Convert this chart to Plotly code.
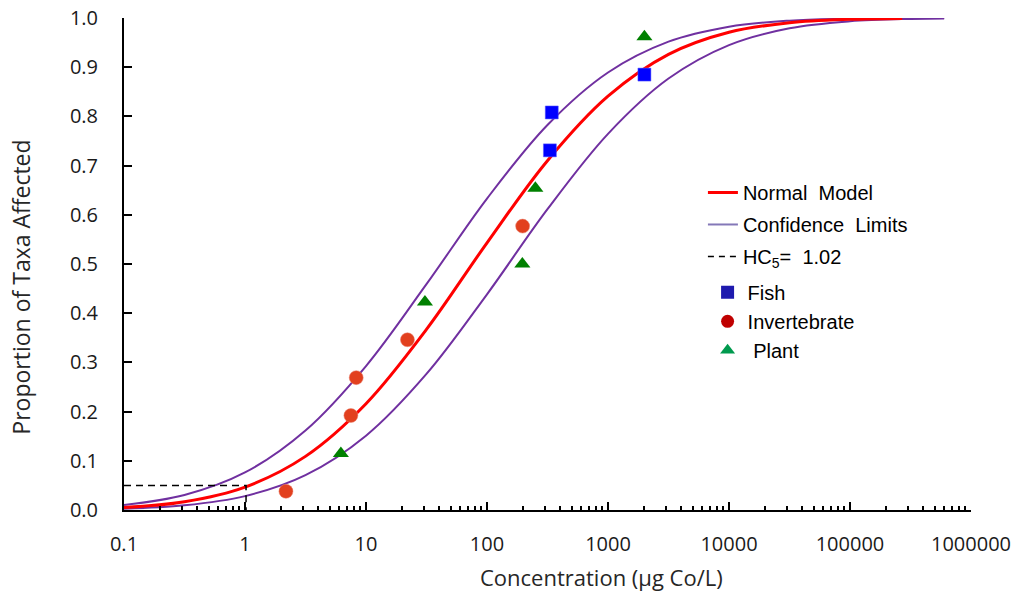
import plotly.graph_objects as go

# ---- data ----
conc_red = [0.1, 0.316, 1, 3.16, 10, 31.6, 100, 316, 1000, 3162, 10000, 31623, 100000, 270000]
normal_model = [0.0051, 0.0168, 0.0466, 0.109, 0.216, 0.367, 0.543, 0.710, 0.841, 0.926,
                0.971, 0.9903, 0.9973, 0.9992]

conc_cl = [0.1, 0.316, 1, 3.16, 10, 31.6, 100, 316, 1000, 3162, 10000, 31623, 100000, 316228, 600000]
upper_limit = [0.0103, 0.0306, 0.0764, 0.1616, 0.2926, 0.459, 0.633, 0.7826, 0.8893, 0.952,
               0.9824, 0.9946, 0.9986, 0.9997, 0.9999]
lower_limit = [0.0027, 0.0095, 0.0282, 0.0708, 0.151, 0.2765, 0.4384, 0.6114, 0.7646, 0.877,
               0.945, 0.9791, 0.9933, 0.9982, 0.9992]

hc5_x = [0.1, 1.02, 1.02]
hc5_y = [0.05, 0.05, 0.0]

fish_x = [331, 343, 2000]
fish_y = [0.731, 0.808, 0.885]
invert_x = [2.18, 7.5, 8.3, 22, 197]
invert_y = [0.038, 0.192, 0.269, 0.346, 0.577]
plant_x = [6.2, 30.7, 196, 251, 2000]
plant_y = [0.115, 0.423, 0.500, 0.654, 0.962]

x_tick_vals = [0.1, 1, 10, 100, 1000, 10000, 100000, 1000000]
x_tick_text = ["0.1", "1", "10", "100", "1000", "10000", "100000", "1000000"]
y_tick_vals = [0.0, 0.1, 0.2, 0.3, 0.4, 0.5, 0.6, 0.7, 0.8, 0.9, 1.0]

minor_vals = [m * d for d in x_tick_vals[:-1] for m in range(2, 10)]

RED = "#FF0000"
PURPLE = "#7030A0"

fig = go.Figure()

# curves
fig.add_trace(go.Scatter(x=conc_cl, y=upper_limit, mode="lines", line=dict(color=PURPLE, width=2, shape="spline"),
                         showlegend=False, hoverinfo="skip"))
fig.add_trace(go.Scatter(x=conc_cl, y=lower_limit, mode="lines", line=dict(color=PURPLE, width=2, shape="spline"),
                         showlegend=False, hoverinfo="skip"))
fig.add_trace(go.Scatter(x=conc_red, y=normal_model, mode="lines", line=dict(color=RED, width=3, shape="spline"),
                         showlegend=False))
fig.add_trace(go.Scatter(x=hc5_x, y=hc5_y, mode="lines", line=dict(color="black", width=1.5, dash="7px,5px"),
                         showlegend=False))

# points
fig.add_trace(go.Scatter(x=fish_x, y=fish_y, mode="markers",
                         marker=dict(symbol="square", size=13, color="#0000FF", line=dict(width=0.5, color="#6060FF")),
                         showlegend=False))
fig.add_trace(go.Scatter(x=invert_x, y=invert_y, mode="markers",
                         marker=dict(symbol="circle", size=14, color="#E2401E", line=dict(width=0.5, color="#E88070")),
                         showlegend=False))
fig.add_trace(go.Scatter(x=plant_x, y=plant_y, mode="markers",
                         marker=dict(symbol="triangle-up", size=14, color="#008000", line=dict(width=0)),
                         showlegend=False))

# legend entries
fig.add_trace(go.Scatter(x=[None], y=[None], mode="lines", name="Normal  Model",
                         line=dict(color=RED, width=3), legend="legend", legendgroup="a"))
fig.add_trace(go.Scatter(x=[None], y=[None], mode="lines", name="Confidence  Limits",
                         line=dict(color="#8478B8", width=2), legend="legend", legendgroup="b"))
fig.add_trace(go.Scatter(x=[None], y=[None], mode="lines", name="HC<sub>5</sub>=  1.02",
                         line=dict(color="black", width=1.5, dash="6px,5px"), legend="legend", legendgroup="c"))
fig.add_trace(go.Scatter(x=[None], y=[None], mode="markers", name="Fish",
                         marker=dict(symbol="square", size=13, color="#1E1AAE"), legend="legend2"))
fig.add_trace(go.Scatter(x=[None], y=[None], mode="markers", name="Invertebrate",
                         marker=dict(symbol="circle", size=13, color="#C00000"), legend="legend2"))
fig.add_trace(go.Scatter(x=[None], y=[None], mode="markers", name=" Plant",
                         marker=dict(symbol="triangle-up", size=13, color="#009A4E"), legend="legend2"))

tick_font = dict(family="Open Sans", size=20, color="#1a1a1a")

fig.update_layout(
    width=1016, height=594,
    margin=dict(l=124, r=45, t=18, b=84, autoexpand=False),
    paper_bgcolor="white", plot_bgcolor="white",
    showlegend=True,
    legend=dict(x=0.6835, y=0.685, xanchor="left", yanchor="top",
                font=dict(family="Liberation Sans", size=20, color="black"),
                bgcolor="rgba(0,0,0,0)", tracegroupgap=3, traceorder="grouped"),
    legend2=dict(x=0.689, y=0.482, xanchor="left", yanchor="top",
                 font=dict(family="Liberation Sans", size=20, color="black"),
                 bgcolor="rgba(0,0,0,0)"),
    xaxis=dict(type="log", range=[-1, 6], tickvals=x_tick_vals, ticktext=x_tick_text,
               ticks="inside", ticklen=8, tickwidth=2, tickcolor="black", automargin=False,
               ticklabeloverflow="allow",
               showline=True, linecolor="black", linewidth=2, showgrid=False, zeroline=False,
               tickfont=tick_font, ticklabelstandoff=15,
               minor=dict(tickvals=minor_vals, ticks="inside", ticklen=4, tickwidth=1.5, tickcolor="black",
                          showgrid=False)),
    yaxis=dict(range=[0, 1.0], tickvals=y_tick_vals, tickformat=".1f", automargin=False,
               ticklabeloverflow="allow",
               ticks="inside", ticklen=8, tickwidth=2, tickcolor="black",
               showline=True, linecolor="black", linewidth=2, showgrid=False, zeroline=False,
               tickfont=tick_font, ticklabelstandoff=20),
    annotations=[
        dict(text="Concentration (µg Co/L)", xref="paper", yref="paper", x=0.564, y=-0.136,
             xanchor="center", yanchor="middle", showarrow=False,
             font=dict(family="Open Sans", size=22, color="#262626")),
        dict(text="Proportion of Taxa Affected", xref="paper", yref="paper", x=-0.121, y=0.453,
             xanchor="center", yanchor="middle", showarrow=False, textangle=-90,
             font=dict(family="Open Sans", size=23, color="#262626")),
    ],
)

fig.write_html("out.html", config={"displayModeBar": False},
               post_script="document.body.style.margin='0';document.body.style.overflow='hidden';")
